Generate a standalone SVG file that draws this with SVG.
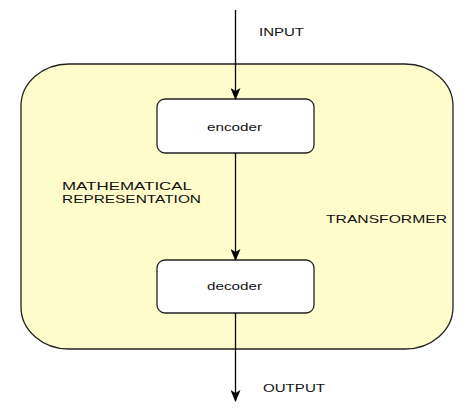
<svg xmlns="http://www.w3.org/2000/svg" width="474" height="411" viewBox="0 0 474 411">
<style>
text{font-family:"Liberation Sans",Arial,sans-serif;font-size:11px;fill:#111}
.box{fill:#fff;stroke:#222;stroke-width:1.3}
.edge{stroke:#000;stroke-width:1.3;fill:none;marker-end:url(#ah)}
</style>
<defs>
<marker id="ah" viewBox="0 0 12 10" refX="11" refY="5" markerWidth="12" markerHeight="10" markerUnits="userSpaceOnUse" orient="auto">
<path d="M0,0 L12,5 L0,10 L3,5 Z" fill="#000"/>
</marker>
</defs>
<rect width="474" height="411" fill="#fff"/>
<g id="transformer">
<rect x="21" y="64" width="432" height="285" rx="48" ry="42" fill="#FFFCCB" stroke="#222" stroke-width="1.3"/>
<text x="326" y="223" textLength="121" lengthAdjust="spacingAndGlyphs">TRANSFORMER</text>
</g>
<g id="repr-label">
<text x="62" y="190" textLength="130" lengthAdjust="spacingAndGlyphs">MATHEMATICAL</text>
<text x="62" y="203" textLength="139" lengthAdjust="spacingAndGlyphs">REPRESENTATION</text>
</g>
<g id="encoder">
<rect class="box" x="157" y="99" width="157" height="54" rx="8"/>
<text x="207" y="131" textLength="55" lengthAdjust="spacingAndGlyphs">encoder</text>
</g>
<g id="decoder">
<rect class="box" x="157" y="260" width="157" height="53" rx="8"/>
<text x="207" y="290" textLength="55" lengthAdjust="spacingAndGlyphs">decoder</text>
</g>
<g id="connectors">
<line class="edge" x1="235.5" y1="10" x2="235.5" y2="99"/>
<line class="edge" x1="235.5" y1="153" x2="235.5" y2="260"/>
<line class="edge" x1="235.5" y1="313" x2="235.5" y2="401"/>
</g>
<g id="labels">
<text x="259" y="36" textLength="45" lengthAdjust="spacingAndGlyphs">INPUT</text>
<text x="263" y="392" textLength="62" lengthAdjust="spacingAndGlyphs">OUTPUT</text>
</g>
</svg>
